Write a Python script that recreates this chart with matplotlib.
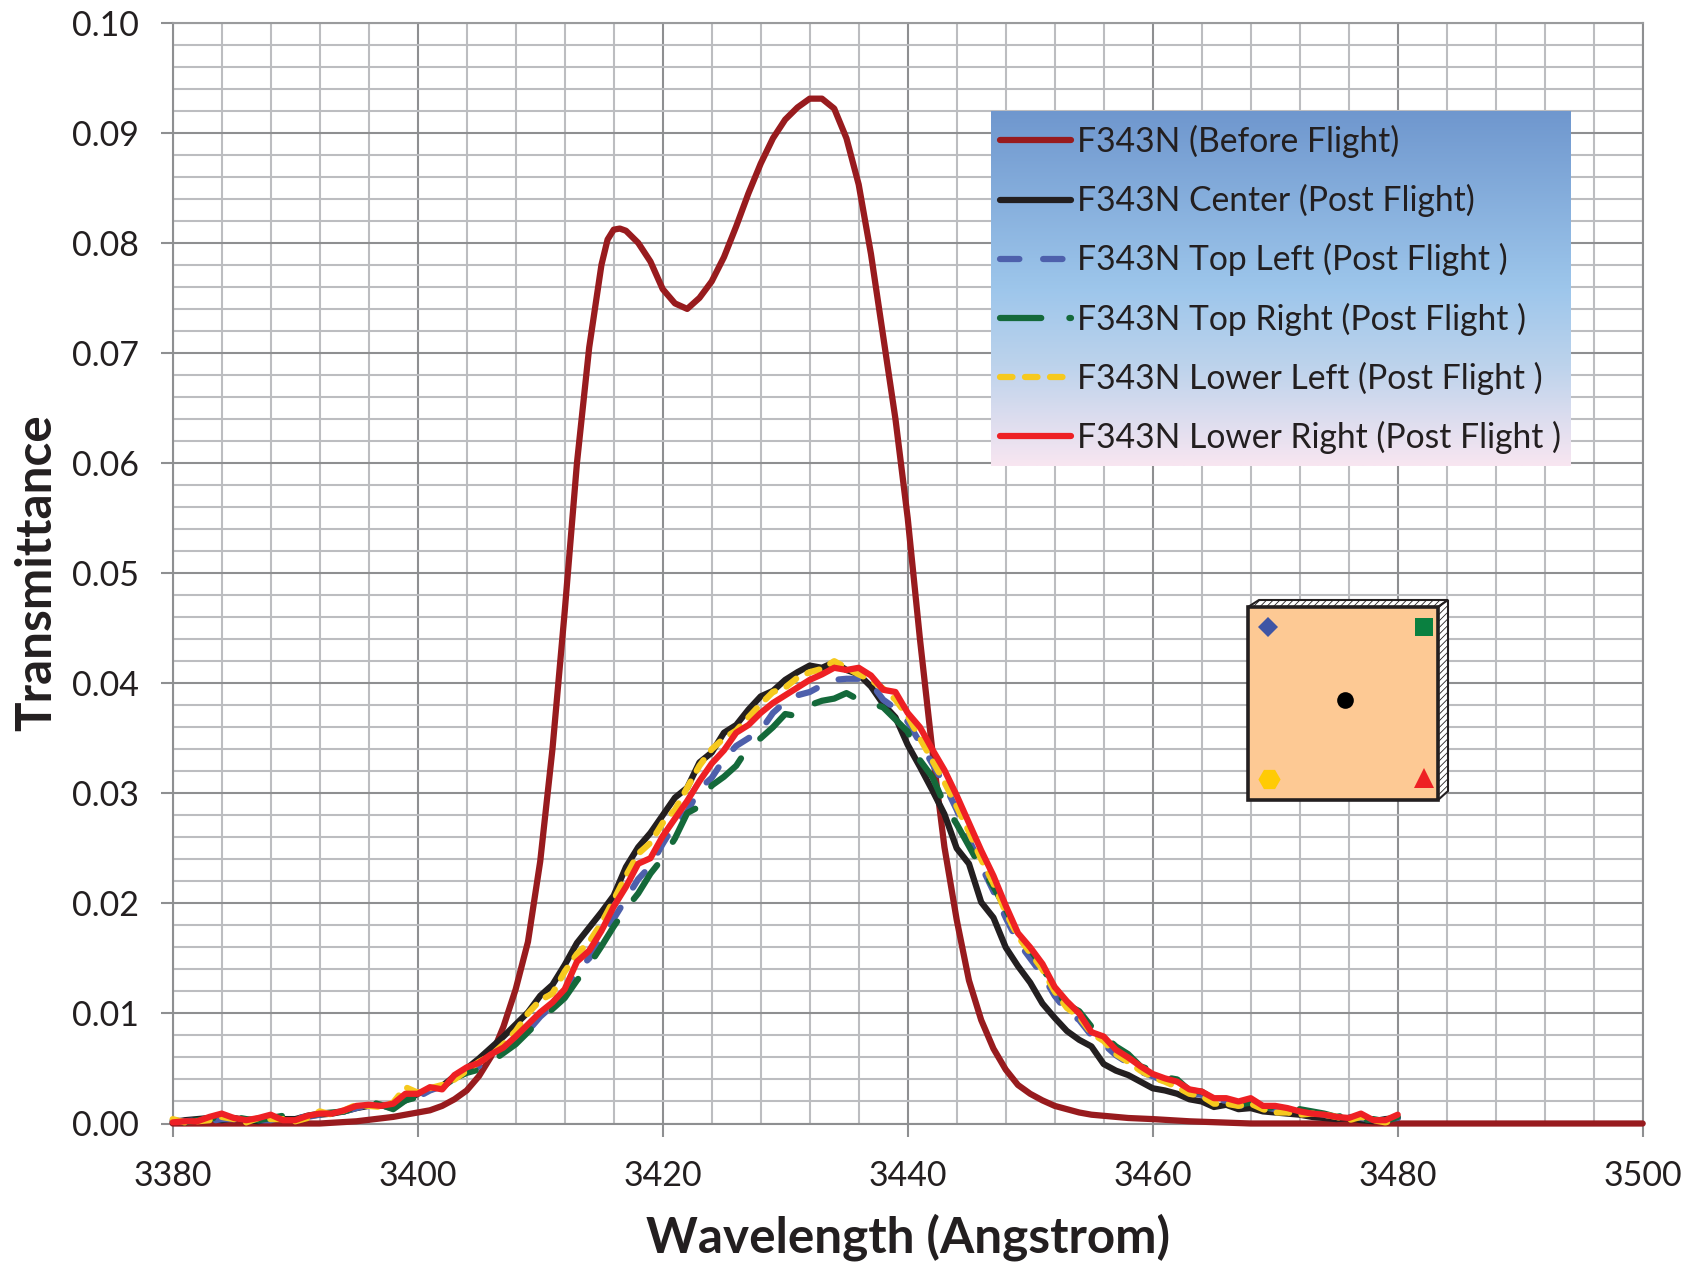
#!/usr/bin/env python

import matplotlib
matplotlib.use('Agg')
import matplotlib.pyplot as plt
from matplotlib.patches import Polygon, Rectangle
from matplotlib.colors import LinearSegmentedColormap
import numpy as np

plt.rcParams['font.family'] = ['Lato', 'DejaVu Sans']
plt.rcParams['hatch.linewidth'] = 0.6

FIG_W, FIG_H = 1704, 1264
AX_L, AX_R, AX_T, AX_B = 172.7, 1642.7, 22.7, 1123.5

# Pre-flight curve (uneven steps)
before_wave = [3380, 3392, 3395, 3398, 3400, 3401, 3402, 3403, 3404, 3405, 3406, 3407, 3408,
               3409, 3410, 3411, 3412, 3413, 3414, 3415, 3415.5, 3416, 3416.5, 3417, 3418,
               3419, 3420, 3421, 3422, 3423, 3424, 3425, 3426, 3427, 3428, 3429, 3430,
               3431, 3432, 3433, 3434, 3435, 3436, 3437, 3438, 3439, 3440, 3441, 3442,
               3443, 3444, 3445, 3446, 3447, 3448, 3449, 3450, 3451, 3452, 3453, 3454,
               3455, 3456, 3458, 3460, 3463, 3468, 3500]
before_flight = [0, 0, .0002, .0006, .0010, .0012, .0016, .0022, .0030, .0043, .0061, .0088, .0122,
                 .0165, .0238, .0340, .0465, .0600, .0705, .0780, .0803, .0812, .0813, .0811, .0800,
                 .0783, .0758, .0745, .0740, .0750, .0765, .0787, .0815, .0845, .0872, .0895, .0912,
                 .0923, .0931, .0931, .0922, .0895, .0853, .0790, .0715, .0640, .0550, .0440, .0340,
                 .0251, .0185, .0130, .0094, .0068, .0049, .0035, .0027, .0021, .0016, .0013, .0010,
                 .0008, .0007, .0005, .0004, .0002, 0, 0]

# Post-flight scans, one value per Angstrom from 3380 to 3480
wave = list(range(3380, 3481))
center = [.0001, .0003, .0004, .0005, .0003, .0005, .0003, .0002, .0005, .0004, .0004,
          .0007, .0008, .0009, .0011, .0014, .0016, .0016, .0017, .0021, .0027,
          .0031, .0034, .0043, .0050, .0059, .0069, .0079, .0090, .0101, .0116,
          .0126, .0144, .0164, .0178, .0192, .0207, .0233, .0251, .0264, .0280,
          .0296, .0305, .0328, .0337, .0355, .0362, .0376, .0388, .0393, .0403,
          .0410, .0416, .0414, .0419, .0412, .0408, .0397, .0381, .0369, .0344,
          .0324, .0303, .0281, .0250, .0236, .0201, .0187, .0160, .0143, .0128,
          .0109, .0096, .0084, .0076, .0070, .0054, .0048, .0044, .0038, .0032,
          .0030, .0027, .0022, .0020, .0015, .0017, .0013, .0014, .0011, .0010,
          .0009, .0008, .0006, .0005, .0004, .0005, .0003, .0002, .0004, .0005]
top_left = [.0003, .0002, .0003, .0002, .0004, .0004, .0002, .0003, .0003, .0006, .0005,
            .0006, .0008, .0008, .0011, .0014, .0017, .0016, .0014, .0024, .0024,
            .0030, .0034, .0040, .0047, .0052, .0058, .0066, .0074, .0084, .0097,
            .0107, .0118, .0139, .0150, .0169, .0186, .0204, .0222, .0234, .0254,
            .0272, .0283, .0304, .0314, .0331, .0343, .0350, .0357, .0373, .0383,
            .0389, .0392, .0398, .0403, .0404, .0404, .0400, .0385, .0377, .0365,
            .0346, .0327, .0308, .0285, .0258, .0234, .0211, .0187, .0165, .0150,
            .0135, .0116, .0102, .0094, .0080, .0072, .0062, .0055, .0047, .0043,
            .0038, .0034, .0028, .0026, .0020, .0021, .0016, .0018, .0015, .0013,
            .0012, .0011, .0010, .0008, .0005, .0006, .0005, .0003, .0004, .0005]
top_right = [.0002, .0001, .0003, .0004, .0007, .0006, .0004, .0003, .0005, .0007, .0004,
             .0007, .0009, .0010, .0011, .0015, .0020, .0017, .0013, .0021, .0024,
             .0031, .0033, .0041, .0046, .0049, .0056, .0064, .0072, .0083, .0094,
             .0104, .0114, .0130, .0144, .0161, .0179, .0195, .0209, .0227, .0241,
             .0259, .0282, .0288, .0307, .0315, .0325, .0342, .0350, .0360, .0372,
             .0370, .0380, .0384, .0386, .0391, .0385, .0382, .0378, .0367, .0356,
             .0330, .0315, .0290, .0272, .0252, .0232, .0215, .0195, .0172, .0158,
             .0142, .0122, .0108, .0102, .0088, .0080, .0070, .0063, .0052, .0048,
             .0042, .0040, .0030, .0029, .0022, .0024, .0017, .0019, .0014, .0015,
             .0014, .0013, .0011, .0009, .0006, .0008, .0003, .0004, .0002, .0006]
lower_left = [.0004, .0001, .0002, .0003, .0006, .0004, .0001, .0005, .0004, .0004, .0002,
              .0005, .0011, .0008, .0012, .0017, .0016, .0015, .0019, .0033, .0028,
              .0032, .0035, .0040, .0048, .0056, .0062, .0072, .0084, .0100, .0112,
              .0118, .0138, .0154, .0165, .0182, .0203, .0225, .0245, .0255, .0273,
              .0285, .0305, .0325, .0340, .0350, .0357, .0369, .0381, .0392, .0396,
              .0405, .0410, .0413, .0420, .0414, .0408, .0403, .0395, .0385, .0370,
              .0350, .0330, .0310, .0288, .0265, .0240, .0218, .0192, .0170, .0155,
              .0140, .0120, .0105, .0097, .0082, .0075, .0063, .0056, .0048, .0042,
              .0038, .0033, .0027, .0025, .0018, .0018, .0016, .0018, .0013, .0010,
              .0010, .0008, .0009, .0008, .0006, .0003, .0006, .0003, .0001, .0004]
lower_right = [.0001, .0002, .0002, .0006, .0009, .0005, .0003, .0005, .0008, .0003, .0003,
               .0007, .0009, .0009, .0012, .0016, .0017, .0016, .0018, .0027, .0027,
               .0033, .0031, .0044, .0051, .0055, .0063, .0069, .0079, .0090, .0101,
               .0110, .0122, .0147, .0157, .0175, .0197, .0215, .0236, .0241, .0261,
               .0277, .0293, .0311, .0327, .0339, .0355, .0362, .0373, .0382, .0389,
               .0396, .0403, .0408, .0414, .0412, .0414, .0407, .0394, .0392, .0373,
               .0360, .0340, .0321, .0298, .0273, .0248, .0225, .0198, .0173, .0160,
               .0145, .0124, .0111, .0100, .0083, .0079, .0067, .0060, .0052, .0045,
               .0041, .0038, .0031, .0029, .0023, .0023, .0020, .0023, .0016, .0016,
               .0014, .0011, .0009, .0008, .0006, .0005, .0009, .0003, .0003, .0008]

labels = ['F343N (Before Flight)', 'F343N Center (Post Flight)', 'F343N Top Left (Post Flight )',
          'F343N Top Right (Post Flight )', 'F343N Lower Left (Post Flight )',
          'F343N Lower Right (Post Flight )']
colors = ['#981B1E', '#231F20', '#4E60AC', '#14693A', '#F6C91E', '#EE2024']
styles = ['-', '-', (0, (3.1, 3.8)), (0, (6.6, 4.5)), (0, (2.0, 2.0)), '-']

x_ticks = list(range(3380, 3501, 20))
y_ticks = [i / 100 for i in range(0, 11)]
x_minor = list(range(3380, 3501, 4))
y_minor = [i / 500 for i in range(0, 51)]

TEXT = '#231F20'
LW = 4.5


def main():
    fig = plt.figure(figsize=(FIG_W / 100, FIG_H / 100), dpi=100)
    ax = fig.add_axes([AX_L / FIG_W, 1 - AX_B / FIG_H,
                       (AX_R - AX_L) / FIG_W, (AX_B - AX_T) / FIG_H])

    series = [(before_wave, before_flight), (wave, center), (wave, top_left),
              (wave, top_right), (wave, lower_left), (wave, lower_right)]
    handles = []
    for (xs, ys), col, ls, lab in zip(series, colors, styles, labels):
        line, = ax.plot(xs, ys, color=col, lw=LW, ls=ls, label=lab, clip_on=False,
                        solid_capstyle='round', dash_capstyle='round',
                        solid_joinstyle='round', dash_joinstyle='round', zorder=3)
        handles.append(line)

    ax.set_xlim(3380, 3500)
    ax.set_ylim(0, 0.10)
    ax.set_xticks(x_ticks)
    ax.set_yticks(y_ticks)
    ax.set_yticklabels(['%.2f' % v for v in y_ticks])
    ax.set_xticks(x_minor, minor=True)
    ax.set_yticks(y_minor, minor=True)
    ax.set_axisbelow(True)
    ax.grid(which='minor', color='#BCBDC0', lw=1.5)
    ax.grid(which='major', color='#8E8F91', lw=1.5)
    ax.tick_params(which='minor', length=0)
    ax.tick_params(which='major', length=9, width=1.5, color='#8E8F91',
                   labelsize=24.5, labelcolor=TEXT)
    ax.tick_params(axis='y', which='major', pad=15)
    ax.tick_params(axis='x', which='major', pad=17)
    for s in ax.spines.values():
        s.set_color('#8E8F91')
        s.set_linewidth(1.5)
    ax.spines['top'].set_color('#9A9B9D')

    ax.set_xlabel('Wavelength (Angstrom)', fontsize=35.6, fontweight='bold', color=TEXT)
    ax.set_ylabel('Transmittance', fontsize=35.6, fontweight='bold', color=TEXT)
    ax.xaxis.set_label_coords((908 - AX_L) / (AX_R - AX_L), (AX_B - 1237) / (AX_B - AX_T), )
    ax.xaxis.label.set_verticalalignment('center')
    ax.yaxis.set_label_coords((37 - AX_L) / (AX_R - AX_L), (AX_B - 573) / (AX_B - AX_T))
    ax.yaxis.label.set_verticalalignment('center')

    # Overlay in pixel coordinates for the legend panel and the filter sketch
    ov = fig.add_axes([0, 0, 1, 1], zorder=5)
    ov.axis('off')
    ov.patch.set_alpha(0)

    grad = LinearSegmentedColormap.from_list(
        'panel', [(0, '#6F97CE'), (0.5, '#9DC6EB'), (0.72, '#BDD3EC'), (1, '#F8E6F1')])
    ov.imshow(np.linspace(0, 1, 256).reshape(-1, 1), cmap=grad, aspect='auto',
              extent=(991, 1571, 466, 111), zorder=1)
    ov.set_xlim(0, FIG_W)
    ov.set_ylim(FIG_H, 0)

    leg = ov.legend(handles, labels, loc='upper left',
                    bbox_to_anchor=(1000 / FIG_W, 1 - 125 / FIG_H), frameon=False,
                    fontsize=24.2, handlelength=2.1, handletextpad=0.19,
                    labelspacing=0.775, borderpad=0, borderaxespad=0, labelcolor=TEXT)
    leg.set_zorder(3)

    # Filter sketch with its hatched depth edges
    top_edge = [(1248, 607), (1259, 600), (1448, 600), (1438, 607)]
    side_edge = [(1438, 607), (1448, 600), (1448, 791), (1438, 800)]
    for pts in (top_edge, side_edge):
        ov.add_patch(Polygon(pts, closed=True, facecolor='white', edgecolor='#231F20',
                             hatch='/////', lw=1.5, zorder=2))
    ov.add_patch(Rectangle((1248, 607), 190, 193, facecolor='#FDC994',
                           edgecolor='#231F20', lw=2.6, zorder=3))
    ov.plot(1268, 627, marker='D', ms=9.8, color='#3F55A5', mew=0, zorder=4)
    ov.plot(1424, 627, marker='s', ms=13, color='#0A8040', mew=0, zorder=4)
    ov.plot(1345, 700, marker='o', ms=12, color='black', mew=0, zorder=4)
    ov.plot(1269, 779, marker='H', ms=16, color='#FFCB05', mew=0, zorder=4)
    ov.plot(1424, 778, marker='^', ms=14, color='#EE2024', mew=0, zorder=4)

    fig.savefig('out.png', dpi=100, facecolor='white')


if __name__ == '__main__':
    main()
